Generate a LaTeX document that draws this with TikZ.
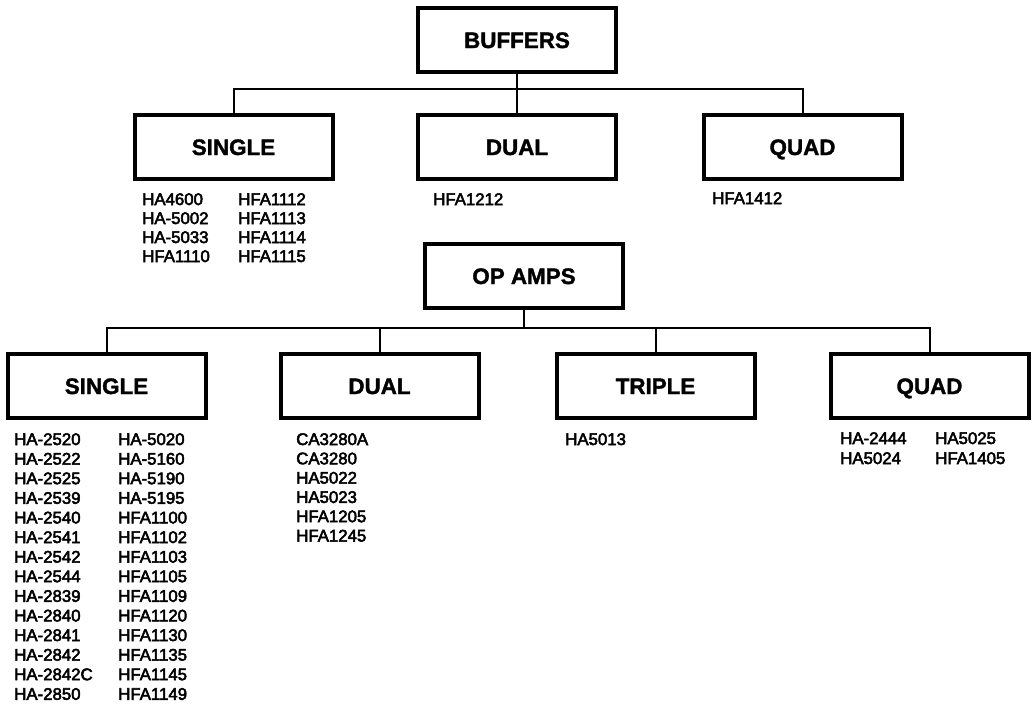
\documentclass[tikz,border=0pt]{standalone}
\usepackage{fontspec}
\setmainfont{Liberation Sans}
\newfontfamily\listfont[FakeBold=3]{Liberation Sans}
\newfontfamily\labelfont[FakeBold=1.5]{Liberation Sans Bold}
\begin{document}
\begin{tikzpicture}[x=0.75pt,y=-0.75pt,
  catbox/.style={draw,line width=3pt,minimum width=148.5pt,minimum height=47.5pt,inner sep=0pt,text height=12pt,text depth=0pt,font=\labelfont\fontsize{16.8pt}{19pt}\selectfont},
  conn/.style={line width=1.5pt},
  item/.style={anchor=base west,inner sep=0pt,font=\listfont\fontsize{12.6pt}{15pt}\selectfont}]
\useasboundingbox (0,0) rectangle (1034,704);
% top level
\node[catbox] (buf) at (517,40) {BUFFERS};
\node[catbox] (bS) at (233.5,147) {SINGLE};
\node[catbox] (bD) at (517,147) {DUAL};
\node[catbox] (bQ) at (802.5,147) {QUAD};
\coordinate (busB) at (517,89);
\draw[conn] (buf.south) -- (busB);
\draw[conn] (bS.north) |- (busB) -| (bQ.north);
\draw[conn] (busB) -- (bD.north);
% op amps
\node[catbox] (op) at (524,276) {OP AMPS};
\node[catbox] (oS) at (106.5,386) {SINGLE};
\node[catbox] (oD) at (379.5,386) {DUAL};
\node[catbox] (oT) at (655.5,386) {TRIPLE};
\node[catbox] (oQ) at (929.5,386) {QUAD};
\coordinate (busO) at (524,328);
\draw[conn] (op.south) -- (busO);
\draw[conn] (oS.north) |- (busO) -| (oQ.north);
\draw[conn] (oD.north) |- (busO);
\draw[conn] (oT.north) |- (busO);
% buffer lists
\foreach \t [count=\i] in {HA4600,HA-5002,HA-5033,HFA1110}
  \node[item] (bsa\i) at (142,{205+(\i-1)*19}) {\t};
\foreach \t [count=\i] in {HFA1112,HFA1113,HFA1114,HFA1115}
  \node[item] (bsb\i) at (238,{205+(\i-1)*19}) {\t};
\node[item] (bd1) at (433,205) {HFA1212};
\node[item] (bq1) at (712,204) {HFA1412};
% op amp lists
\foreach \t [count=\i] in {HA-2520,HA-2522,HA-2525,HA-2539,HA-2540,HA-2541,HA-2542,HA-2544,HA-2839,HA-2840,HA-2841,HA-2842,HA-2842C,HA-2850}
  \node[item] (osa\i) at (14,{445+(\i-1)*19.6}) {\t};
\foreach \t [count=\i] in {HA-5020,HA-5160,HA-5190,HA-5195,HFA1100,HFA1102,HFA1103,HFA1105,HFA1109,HFA1120,HFA1130,HFA1135,HFA1145,HFA1149}
  \node[item] (osb\i) at (118,{445+(\i-1)*19.6}) {\t};
\foreach \t [count=\i] in {CA3280A,CA3280,HA5022,HA5023,HFA1205,HFA1245}
  \node[item] (od\i) at (296,{445+(\i-1)*19.3}) {\t};
\node[item] (ot1) at (565,445) {HA5013};
\node[item] (oqa1) at (840,444) {HA-2444};
\node[item] (oqa2) at (840,464) {HA5024};
\node[item] (oqb1) at (935,444) {HA5025};
\node[item] (oqb2) at (935,464) {HFA1405};
\end{tikzpicture}
\end{document}
